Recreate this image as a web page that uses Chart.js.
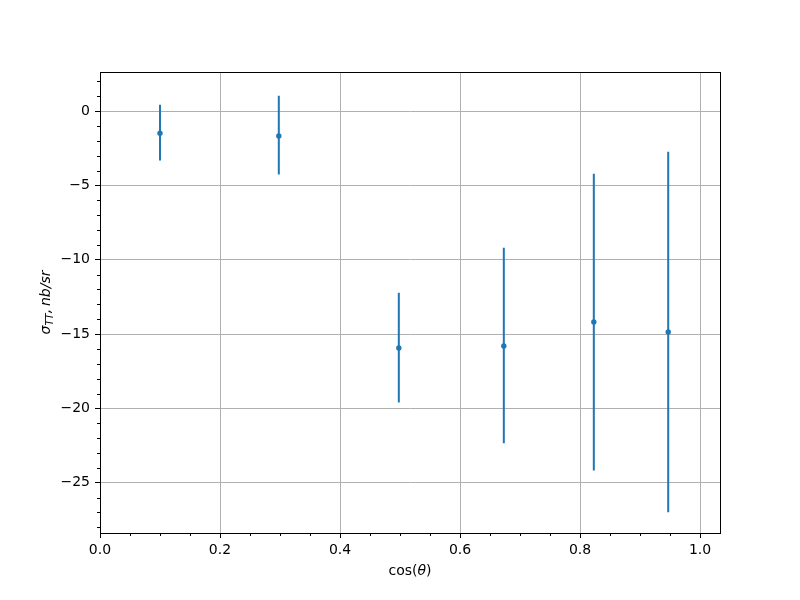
<!DOCTYPE html>
<html>
<head>
<meta charset="utf-8">
<script src="https://cdn.jsdelivr.net/npm/chart.js@4"></script>
<style>body{margin:0;background:#fff}</style>
</head>
<body>
<canvas id="chart" width="800" height="600"></canvas>
<script>
const cosTheta = [0.1, 0.298, 0.498, 0.673, 0.823, 0.947];
const sigmaTT = [-1.49, -1.68, -15.94, -15.80, -14.19, -14.86];
const errLow = [-3.32, -4.26, -19.60, -22.35, -24.17, -26.99];
const errHigh = [0.42, 1.03, -12.22, -9.19, -4.22, -2.74];

const xTicks = [0, 0.2, 0.4, 0.6, 0.8, 1.0];
const yTicks = [-25, -20, -15, -10, -5, 0];
const xMinor = [0.05, 0.1, 0.15, 0.25, 0.3, 0.35, 0.45, 0.5, 0.55, 0.65, 0.7, 0.75, 0.85, 0.9, 0.95];
const yMinor = [-28, -27, -26, -24, -23, -22, -21, -19, -18, -17, -16, -14, -13, -12, -11, -9, -8, -7, -6, -4, -3, -2, -1, 1, 2];

const BLUE = '#1f77b4';
const FONT = "'DejaVu Sans', sans-serif";

// error bars as one broken line: low, high, gap
const barPoints = [];
cosTheta.forEach((x, i) => {
  barPoints.push({ x: x, y: errLow[i] });
  barPoints.push({ x: x, y: errHigh[i] });
  barPoints.push({ x: x, y: null });
});

const decor = {
  id: 'decor',
  afterDraw(chart) {
    const { ctx, chartArea: a, scales: { x, y } } = chart;
    ctx.save();
    ctx.strokeStyle = '#000';
    ctx.lineWidth = 1;
    ctx.beginPath();
    xMinor.forEach(v => {
      const px = Math.round(x.getPixelForValue(v)) + 0.5;
      ctx.moveTo(px, a.bottom);
      ctx.lineTo(px, a.bottom + 3);
    });
    yMinor.forEach(v => {
      const py = Math.round(y.getPixelForValue(v)) + 0.5;
      ctx.moveTo(a.left, py);
      ctx.lineTo(a.left - 3, py);
    });
    ctx.stroke();
    ctx.strokeRect(a.left + 0.5, a.top + 0.5, a.right - a.left, a.bottom - a.top);

    // x axis label: cos(θ)
    ctx.fillStyle = '#000';
    ctx.textBaseline = 'middle';
    const parts = [['cos(', '14px ' + FONT], ['θ', 'italic 14px ' + FONT], [')', '14px ' + FONT]];
    let total = 0;
    parts.forEach(p => { ctx.font = p[1]; total += ctx.measureText(p[0]).width; });
    let cx = (a.left + a.right) / 2 - total / 2;
    parts.forEach(p => {
      ctx.font = p[1];
      ctx.fillText(p[0], cx, 571);
      cx += ctx.measureText(p[0]).width;
    });

    // y axis label: σ_TT, nb/sr
    ctx.translate(45, (a.top + a.bottom) / 2);
    ctx.rotate(-Math.PI / 2);
    ctx.textBaseline = 'alphabetic';
    const yparts = [
      ['σ', 'italic 14px ' + FONT, 0],
      ['TT', 'italic 10px ' + FONT, 3],
      [',\u2009nb/sr', 'italic 14px ' + FONT, 0]
    ];
    total = 0;
    yparts.forEach(p => { ctx.font = p[1]; total += ctx.measureText(p[0]).width; });
    cx = -total / 2;
    yparts.forEach(p => {
      ctx.font = p[1];
      ctx.fillText(p[0], cx, 5 + p[2]);
      cx += ctx.measureText(p[0]).width;
    });
    ctx.restore();
  }
};

new Chart(document.getElementById('chart').getContext('2d'), {
  type: 'scatter',
  data: {
    datasets: [
      {
        label: 'error',
        data: barPoints,
        showLine: true,
        spanGaps: false,
        borderColor: BLUE,
        borderWidth: 2,
        pointRadius: 0
      },
      {
        label: 'sigma',
        data: cosTheta.map((x, i) => ({ x: x, y: sigmaTT[i] })),
        backgroundColor: BLUE,
        borderColor: BLUE,
        pointRadius: 2.7,
        borderWidth: 0
      }
    ]
  },
  options: {
    responsive: false,
    devicePixelRatio: 1,
    animation: false,
    layout: { padding: { top: 72, right: 80, left: 0, bottom: 0 } },
    plugins: { legend: { display: false }, tooltip: { enabled: false } },
    scales: {
      x: {
        type: 'linear',
        min: 0,
        max: 1.0333,
        afterFit: s => { s.height = 67; },
        afterBuildTicks: s => { s.ticks = xTicks.map(v => ({ value: v })); },
        grid: { color: '#b0b0b0', lineWidth: 1, tickColor: '#000', tickLength: 5 },
        border: { display: true, color: '#000', width: 1 },
        ticks: {
          color: '#000',
          font: { family: FONT, size: 14 },
          padding: 4,
          maxRotation: 0,
          callback: v => v.toFixed(1)
        }
      },
      y: {
        type: 'linear',
        min: -28.38,
        max: 2.63,
        afterFit: s => { s.width = 100; },
        afterBuildTicks: s => { s.ticks = yTicks.map(v => ({ value: v })); },
        grid: { color: '#b0b0b0', lineWidth: 1, tickColor: '#000', tickLength: 5 },
        border: { display: true, color: '#000', width: 1 },
        ticks: {
          color: '#000',
          font: { family: FONT, size: 14 },
          padding: 5,
          callback: v => (v < 0 ? '\u2212' + Math.abs(v) : String(v))
        }
      }
    }
  },
  plugins: [decor]
});
</script>
</body>
</html>
